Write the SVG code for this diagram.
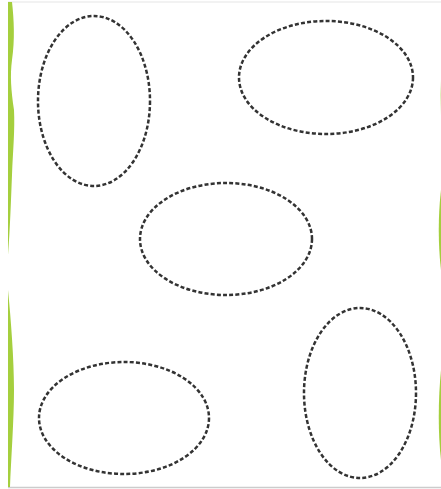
<svg xmlns="http://www.w3.org/2000/svg" width="441" height="489" viewBox="0 0 441 489">
<style>
.e{fill:none;stroke:#333;stroke-width:2.5;stroke-dasharray:4 2.2}
.g{fill:#a5cf3e}
</style>
<rect width="441" height="489" fill="#fff"/>
<line x1="8" y1="2" x2="441" y2="2" stroke="#eee" stroke-width="1.5"/>
<line x1="8" y1="487.5" x2="441" y2="487.5" stroke="#ccc" stroke-width="1.5"/>
<path class="g" d="M8,2 L12,2 C14,20 15,40 12,60 C10,75 11,90 14,110 C15,130 13,150 12,175 C11,200 10,230 8,255 Z"/>
<path class="g" d="M8,290 C11,320 14,360 14,390 C14,420 11,460 10,487 L8,487 Z"/>
<path class="g" opacity="0.35" d="M441,80 L440,95 L441,115 Z"/>
<path class="g" d="M441,190 C438,215 438,245 441,270 Z"/>
<path class="g" d="M441,370 C438,400 438,435 441,460 Z"/>
<g id="node1"><ellipse class="e" cx="94" cy="101" rx="56" ry="85"/></g>
<g id="node2"><ellipse class="e" cx="326" cy="77.5" rx="87" ry="56.5"/></g>
<g id="node3"><ellipse class="e" cx="226" cy="239" rx="86" ry="56"/></g>
<g id="node4"><ellipse class="e" cx="124" cy="418" rx="85" ry="56"/></g>
<g id="node5"><ellipse class="e" cx="360" cy="393" rx="56" ry="85"/></g>
<g id="connectors"></g>
</svg>
